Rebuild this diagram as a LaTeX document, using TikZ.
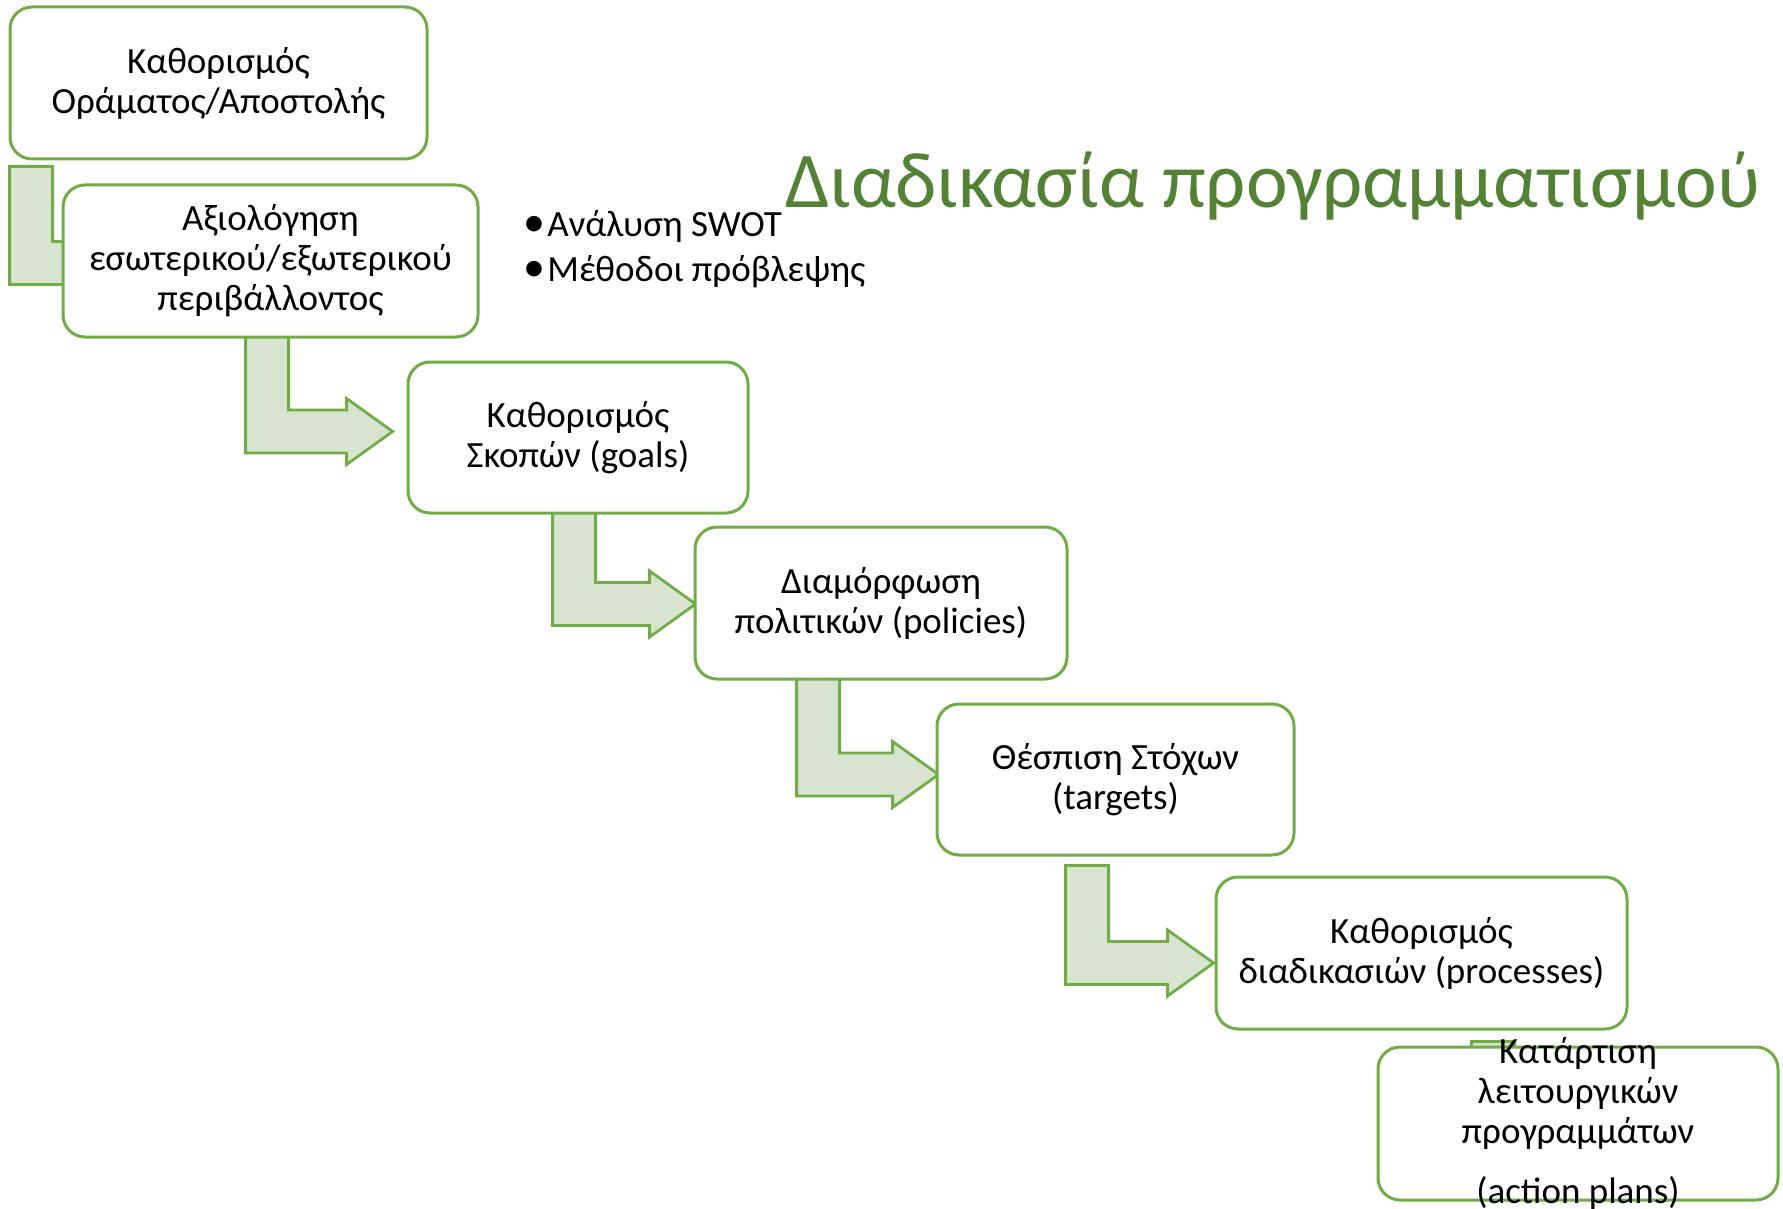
\documentclass[tikz,border=0pt]{standalone}
\usepackage{fontspec}
\setmainfont{Carlito}
\usetikzlibrary{calc}
\definecolor{gline}{RGB}{112,173,71}
\definecolor{gfill}{RGB}{216,228,207}
\definecolor{gtitle}{RGB}{84,130,53}
\newcommand\bentarr[2]{%
  \draw[barrow] let \p1=#1, \p2=#2 in
    (\x1,\y1) -- (\x1+21.5pt,\y1) -- (\x1+21.5pt,\y2+10.75pt) -- (\x2-23pt,\y2+10.75pt)
    -- (\x2-23pt,\y2+16.5pt) -- (\x2,\y2) -- (\x2-23pt,\y2-16.5pt) -- (\x2-23pt,\y2-10.75pt)
    -- (\x1,\y2-10.75pt) -- cycle;}
\begin{document}
\begin{tikzpicture}[x=0.5pt,y=-0.5pt,
  box/.style={draw=gline, line width=1.5pt, fill=white, rounded corners=11pt, inner sep=0pt,
    align=center, font=\fontsize{18.5}{20}\selectfont, text=black},
  boxtext/.style={align=center, font=\fontsize{18.5}{20}\selectfont, text=black, inner sep=0pt},
  barrow/.style={draw=gline, line width=1.4pt, fill=gfill, line join=miter},
  bullet/.style={anchor=base west, inner sep=0pt, font=\fontsize{18.5}{20}\selectfont, text=black}]
\useasboundingbox (0,0) rectangle (1783,1209);
% positions of the boxes
\coordinate (p1) at (218.5,83);
\coordinate (p2) at (270.5,261);
\coordinate (p3) at (578,437.5);
\coordinate (p4) at (881,603);
\coordinate (p5) at (1115.5,779.5);
\coordinate (p6) at (1421.5,953);
\coordinate (p7) at (1578,1123.5);
% invisible placeholders to define anchors first
\path (p1) node[minimum width=208.5pt, minimum height=76pt, inner sep=0pt] (b1) {};
\path (p2) node[minimum width=207.5pt, minimum height=76pt, inner sep=0pt] (b2) {};
\path (p3) node[minimum width=170pt, minimum height=75.5pt, inner sep=0pt] (b3) {};
\path (p4) node[minimum width=186pt, minimum height=76pt, inner sep=0pt] (b4) {};
\path (p5) node[minimum width=178.5pt, minimum height=75.5pt, inner sep=0pt] (b5) {};
\path (p6) node[minimum width=205.5pt, minimum height=76pt, inner sep=0pt] (b6) {};
\path (p7) node[minimum width=200pt, minimum height=76.5pt, inner sep=0pt] (b7) {};
% bent arrows (behind the boxes)
\bentarr{($(b1.south west)+(0,7)$)}{($(b2.west)+(94,2)$)}
\bentarr{($(b2.south west)+(183,-40)$)}{($(b3.west)+(-15,-6)$)}
\bentarr{($(b3.south west)+(145,-23)$)}{($(b4.west)+(1,1)$)}
\bentarr{($(b4.south west)+(102,-19)$)}{($(b5.west)+(2,-5)$)}
\bentarr{($(b5.south west)+(129,10)$)}{($(b6.west)+(-2,10)$)}
\bentarr{($(b6.south west)+(256,12)$)}{($(b7.west)+(220,0)$)}
% boxes
\node[box, minimum width=208.5pt, minimum height=76pt] at (p1) {Καθορισμός\\Οράματος/Αποστολής};
\node[box, minimum width=207.5pt, minimum height=76pt] at (p2) {Αξιολόγηση\\εσωτερικού/εξωτερικού\\περιβάλλοντος};
\node[box, minimum width=170pt, minimum height=75.5pt] at (p3) {Καθορισμός\\Σκοπών (goals)};
\node[box, minimum width=186pt, minimum height=76pt] at (p4) {Διαμόρφωση\\πολιτικών (policies)};
\node[box, minimum width=178.5pt, minimum height=75.5pt] at (p5) {Θέσπιση Στόχων\\(targets)};
\node[box, minimum width=205.5pt, minimum height=76pt] at (p6) {Καθορισμός\\διαδικασιών (processes)};
\node[box, minimum width=200pt, minimum height=76.5pt] at (p7) {};
\node[boxtext] (t7) at ($(p7)+(0,0)$) {Κατάρτιση\\λειτουργικών\\προγραμμάτων\\[9.8pt](action plans)};
% title
\node[anchor=base west, inner sep=0pt, text=gtitle, font=\fontsize{39.5}{44}\selectfont] (title) at (785,208) {Διαδικασία προγραμματισμού};
% bullets
\node[bullet] (s1) at (523,237) {\makebox[25pt][l]{\fontsize{22}{20}\selectfont •}\hspace{-13pt}Ανάλυση SWOT};
\node[bullet] (s2) at (523,282) {\makebox[25pt][l]{\fontsize{22}{20}\selectfont •}\hspace{-13pt}Μέθοδοι πρόβλεψης};
\end{tikzpicture}
\end{document}
